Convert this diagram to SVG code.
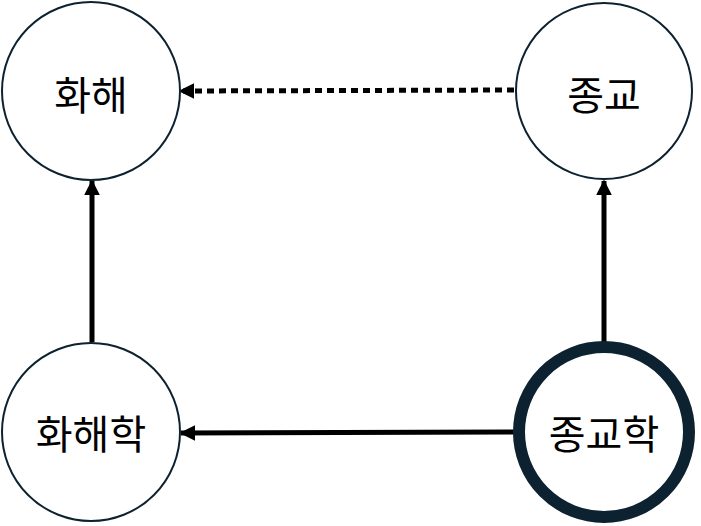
<svg xmlns="http://www.w3.org/2000/svg" width="701" height="526" viewBox="0 0 701 526">
<style>
.n{fill:#fff;stroke:#0d2230;stroke-width:2}
.t{font-family:"Noto Sans CJK KR",sans-serif;font-size:40px;fill:#000;text-anchor:middle;dominant-baseline:central}
.c{stroke:#000;stroke-width:5;fill:none}
</style>
<defs><marker id="a" viewBox="0 0 10 10" refX="9" refY="5" markerWidth="3.2" markerHeight="3.2" orient="auto"><path d="M0,0L10,5L0,10z" fill="#000"/></marker></defs>
<g id="connectors">
<line class="c" x1="514" y1="90" x2="180" y2="91" stroke-dasharray="7,5" marker-end="url(#a)"/>
<line class="c" x1="92" y1="342" x2="92" y2="181" marker-end="url(#a)"/>
<line class="c" x1="604" y1="342" x2="604" y2="181" marker-end="url(#a)"/>
<line class="c" x1="515" y1="432" x2="181" y2="433" marker-end="url(#a)"/>
</g>
<g id="n1"><circle class="n" cx="91" cy="91" r="89"/><text class="t" x="91" y="93">화해</text></g>
<g id="n2"><circle class="n" cx="604" cy="91" r="88"/><text class="t" x="604" y="93">종교</text></g>
<g id="n3"><circle class="n" cx="91" cy="432" r="89"/><text class="t" x="91" y="432">화해학</text></g>
<g id="n4"><circle class="n" cx="604" cy="432" r="85" style="stroke-width:12"/><text class="t" x="604" y="432">종교학</text></g>
</svg>
